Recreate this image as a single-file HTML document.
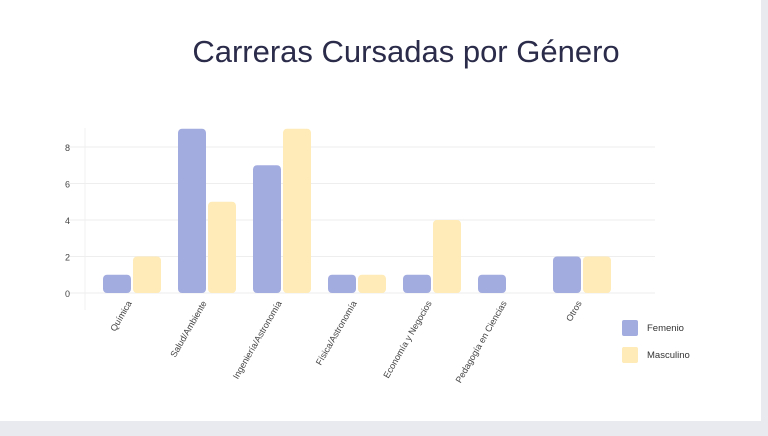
<!DOCTYPE html>
<html><head><meta charset="utf-8"><style>
body{margin:0;background:#e9eaef;width:768px;height:431px;overflow:hidden;font-family:"Liberation Sans",sans-serif}
#card{position:absolute;left:0;top:0;width:761px;height:421px;background:#fff}
</style></head><body>
<div id="card">
<svg id="chart" width="768" height="431">
<text x="406" y="62" text-anchor="middle" font-size="31" fill="#2b2b4a">Carreras Cursadas por Género</text>
</svg></div>
<script>
const categories=["Química","Salud/Ambiente","Ingeniería/Astronomía","Física/Astronomía","Economía y Negocios","Pedagogía en Ciencias","Otros"];
const femenino=[1,9,7,1,1,1,2];
const masculino=[2,5,9,1,4,0,2];
const yTicks=[0,2,4,6,8];
const svg=document.getElementById('chart');const NS='http://www.w3.org/2000/svg';
const x0=94.5,band=75,y0=293,ppu=18.25;
const xs=i=>x0+band*(i+0.5), ys=v=>y0-v*ppu;
function mk(t,a){const e=document.createElementNS(NS,t);for(const k in a)e.setAttribute(k,a[k]);svg.appendChild(e);return e;}
const ax=mk('line',{x1:85,x2:85,y1:128,y2:310,stroke:'#f0f0f0'});


yTicks.forEach(v=>{
 const g=mk('line',{x1:68,x2:655,y1:ys(v),y2:ys(v),stroke:'#eeeeee'});
 
 
 const t=mk('text',{x:70,y:ys(v)+4,'text-anchor':'end','font-size':9,fill:'#444'});t.textContent=v;
 
 
});
function bar(x,v,c){if(v<=0)return null;const h=v*ppu;return mk('rect',{x:x,y:y0-h,width:28,height:h,rx:4,fill:c});}
categories.forEach((c,i)=>{
 const cx=xs(i);
 const b1=bar(cx-29,femenino[i],'#a3acdf');
 if(b1){
 }
 const b2=bar(cx+1,masculino[i],'#feebb7');
 if(b2){
 }
 const t=mk('text',{x:cx,y:303,'text-anchor':'end','font-size':9,fill:'#444',transform:`rotate(-60 ${cx} 303)`});t.textContent=c;
 
 
});
[["Femenio",'#a3acdf',320],["Masculino",'#feebb7',347]].forEach(([n,c,y])=>{
 const r=mk('rect',{x:622,y:y,width:16,height:16,rx:2,fill:c});
 
 
 const t=mk('text',{x:647,y:y+11,'font-size':9.5,fill:'#333'});t.textContent=n;
 
 
});
</script></body></html>
